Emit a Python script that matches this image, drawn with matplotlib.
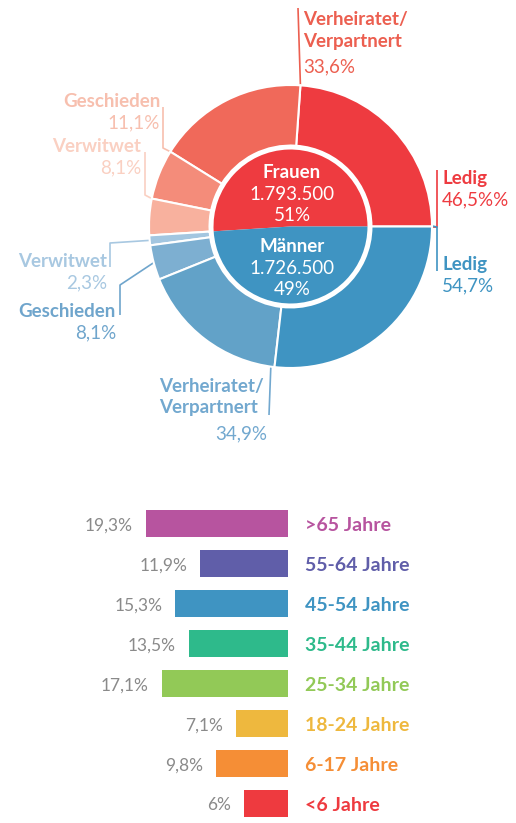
import matplotlib
matplotlib.use("Agg")
import matplotlib.pyplot as plt
import numpy as np

plt.rcParams['font.family'] = ['Lato', 'DejaVu Sans']

# --- data: Familienstand ---
geschlecht = ['Frauen', 'Männer']
anzahl = ['1.793.500', '1.726.500']
anteil = [51, 49]

stand_frauen = ['Ledig', 'Verheiratet/\nVerpartnert', 'Geschieden', 'Verwitwet']
werte_frauen = [46.5, 33.6, 11.1, 8.1]
stand_maenner = ['Verwitwet', 'Geschieden', 'Verheiratet/\nVerpartnert', 'Ledig']
werte_maenner = [2.3, 8.1, 34.9, 54.7]

# --- data: Altersgruppen ---
alter = ['>65 Jahre', '55-64 Jahre', '45-54 Jahre', '35-44 Jahre',
         '25-34 Jahre', '18-24 Jahre', '6-17 Jahre', '<6 Jahre']
alter_werte = [19.3, 11.9, 15.3, 13.5, 17.1, 7.1, 9.8, 6.0]
alter_farben = ['#B7549F', '#605EA9', '#3F94C2', '#2EBA8B',
                '#92C957', '#EEB83E', '#F58E36', '#EE3A3F']

W, H = 516, 823
fig = plt.figure(figsize=(W / 100, H / 100), dpi=100)

# ---------------- pie ----------------
CX, CY, R = 290.5, 226.5, 141.5
top_h = 460
ax = fig.add_axes([0, (H - top_h) / H, 1, top_h / H])

inner_cols = ['#EE3B40', '#3F94C2']
outer_cols = ['#EE3B40', '#F0695A', '#F48C7A', '#F8B19E',
              '#A3C6E0', '#7DAFD1', '#62A2C8', '#3F94C2']

outer_vals = [v / sum(werte_frauen) * anteil[0] for v in werte_frauen] + \
             [v / sum(werte_maenner) * anteil[1] for v in werte_maenner]

ax.pie(anteil, radius=0.544, colors=inner_cols, startangle=0, counterclock=True,
       wedgeprops=dict(linewidth=0))
wedges, _ = ax.pie(outer_vals, radius=1.0, colors=outer_cols, startangle=0,
                   counterclock=True,
                   wedgeprops=dict(width=0.428, edgecolor='white', linewidth=1.5))
for w in wedges:
    w.set_zorder(3)

ax.set_xlim((0 - CX) / R, (W - CX) / R)
ax.set_ylim((CY - top_h) / R, CY / R)
ax.set_aspect('auto')
ax.axis('off')


def P(x, y):
    return (x - CX) / R, (CY - y) / R


def rim(angle):
    a = np.deg2rad(angle)
    return np.cos(a), np.sin(a)


fs = 13.5
# centre texts
for i, (g, n, p) in enumerate(zip(geschlecht, anzahl, anteil)):
    base = [178, 252][i]
    ax.text(*P(292, base), g, color='white', fontsize=fs, fontweight='bold',
            ha='center', va='baseline', zorder=5)
    ax.text(*P(292, base + 21.5), n, color='white', fontsize=fs,
            ha='center', va='baseline', zorder=5)
    ax.text(*P(292, base + 43), f'{p}%', color='white', fontsize=fs,
            ha='center', va='baseline', zorder=5)

labels = stand_frauen + stand_maenner
vals = werte_frauen + werte_maenner
lab_cols = ['#EE3B40', '#EC5F50', '#F7BFAE', '#FAD0C2',
            '#A8C8E1', '#6FA5CC', '#72A8CF', '#3F94C2']
# x, baseline of first line, ha, value x, value ha
lab_pos = [
    (442, 184, 'left', 442, 'left'),
    (303, 25, 'left', 303, 'left'),
    (160, 107, 'right', 160, 'right'),
    (141, 152, 'right', 141, 'right'),
    (107, 267, 'right', 107, 'right'),
    (116, 317, 'right', 116, 'right'),
    (159, 392, 'left', 267, 'right'),
    (442, 270, 'left', 442, 'left'),
]
for i, (lab, v) in enumerate(zip(labels, vals)):
    x, y, ha, vx, vha = lab_pos[i]
    lines = lab.split('\n')
    for k, ln in enumerate(lines):
        ax.text(*P(x, y + 21.5 * k), ln, color=lab_cols[i], fontsize=fs,
                fontweight='bold', ha=ha, va='baseline')
    suffix = '%%' if i == 0 else '%'
    txt = f'{v:.1f}'.replace('.', ',') + suffix
    yv = y + 21.5 * len(lines) + (4 if len(lines) > 1 else 0)
    ax.text(*P(vx, yv), txt, color=lab_cols[i], fontsize=fs,
            ha=vha, va='baseline')

# leader lines: elbow points in px, end on the ring
leaders = [
    ([(437, 170), (437, CY)], wedges[0].theta1),
    ([(298, 8)], wedges[1].theta1),
    ([(163, 107), (163, 148)], wedges[2].theta1),
    ([(145, 152), (145, 195)], wedges[3].theta1),
    ([(110, 267), (110, 243)], (wedges[4].theta1 + wedges[4].theta2) / 2),
    ([(120, 315), (120, 285)], (wedges[5].theta1 + wedges[5].theta2) / 2),
    ([(269, 415)], wedges[6].theta2 - 1.5),
    ([(437, 271), (437, CY)], wedges[7].theta2),
]
for i, (pts, ang) in enumerate(leaders):
    xy = [P(*p) for p in pts] + [rim(ang)]
    xs, ys = zip(*xy)
    ax.plot(xs, ys, color=lab_cols[i], lw=1.2, zorder=2, solid_capstyle='butt')

# ---------------- bars ----------------
bot_top = 490
axb = fig.add_axes([0, 0, 1, (H - bot_top) / H])
scale = 7.37  # px per percent
bar_right = 288
axb.set_xlim(bar_right / scale, -(W - bar_right) / scale)
y0, step = 523.5, 40.0
axb.set_ylim((H - y0) / step, (bot_top - y0) / step)
yy = np.arange(len(alter))
axb.barh(yy, alter_werte, height=27 / step, color=alter_farben, left=0)
for i, (lab, v, c) in enumerate(zip(alter, alter_werte, alter_farben)):
    vt = (f'{v:.1f}'.replace('.', ',') if v != int(v) else f'{int(v)}') + '%'
    axb.text(v + 13 / scale, i + 7 / step, vt, color='#8A8A8A', fontsize=12.5,
             ha='right', va='baseline')
    axb.text(-17 / scale, i + 7.5 / step, lab, color=c, fontsize=14,
             fontweight='bold', ha='left', va='baseline')
axb.axis('off')

fig.savefig('out.png', dpi=100)
